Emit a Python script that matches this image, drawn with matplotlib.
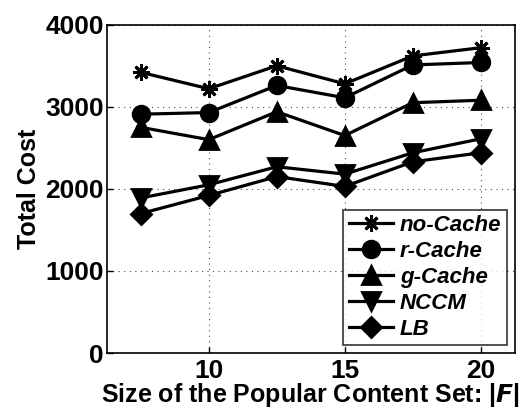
import matplotlib.pyplot as plt

plt.rcParams['font.family'] = ['Liberation Sans', 'DejaVu Sans']
plt.rcParams['font.weight'] = 'bold'

# Size of the popular content set |F|
sizes = [7.5, 10, 12.5, 15, 17.5, 20]

no_cache = [3420, 3220, 3500, 3280, 3620, 3720]
r_cache = [2910, 2930, 3260, 3110, 3510, 3540]
g_cache = [2750, 2600, 2940, 2650, 3050, 3080]
nccm = [1890, 2050, 2270, 2180, 2440, 2610]
lb = [1700, 1920, 2150, 2030, 2330, 2440]

series = [
    ('no-Cache', no_cache, (8, 2, 0), 12),
    ('r-Cache', r_cache, 'o', 12),
    ('g-Cache', g_cache, '^', 13),
    ('NCCM', nccm, 'v', 13),
    ('LB', lb, 'D', 10.5),
]

fig, ax = plt.subplots(figsize=(5.21, 4.12), dpi=100)
fig.subplots_adjust(left=0.205, right=0.988, top=0.94, bottom=0.143)

for name, vals, marker, ms in series:
    ax.plot(sizes, vals, color='black', linewidth=2.3, marker=marker,
            markersize=ms, markerfacecolor='black', markeredgecolor='black',
            markeredgewidth=2.0, label=name)

ax.set_xlim(6.25, 21.25)
ax.set_ylim(0, 4000)
ax.set_xticks([10, 15, 20])
ax.set_yticks([0, 1000, 2000, 3000, 4000])
ax.grid(True, linestyle=(0, (1, 4)), color='black', linewidth=0.8, alpha=0.7)
ax.tick_params(labelsize=19, direction='in', length=4, width=1, pad=2)
ax.tick_params(axis='x', pad=4)
for lbl in ax.get_xticklabels() + ax.get_yticklabels():
    lbl.set_fontweight('bold')
for sp in ax.spines.values():
    sp.set_linewidth(1.2)

ax.set_ylabel('Total Cost', fontsize=18, fontweight='bold', labelpad=3)
ax.set_xlabel(r'Size of the Popular Content Set: |$\mathbfit{F}$|',
              fontsize=18, fontweight='bold', labelpad=-1)

leg = ax.legend(loc='lower right', fontsize=16, frameon=True, fancybox=False,
                edgecolor='black', handlelength=2.0, borderpad=0.25,
                labelspacing=0.22, handletextpad=0.3, borderaxespad=0.35)
leg.get_frame().set_linewidth(1.2)
for t in leg.get_texts():
    t.set_fontstyle('italic')
    t.set_fontweight('bold')

fig.savefig('out.png', dpi=100)
